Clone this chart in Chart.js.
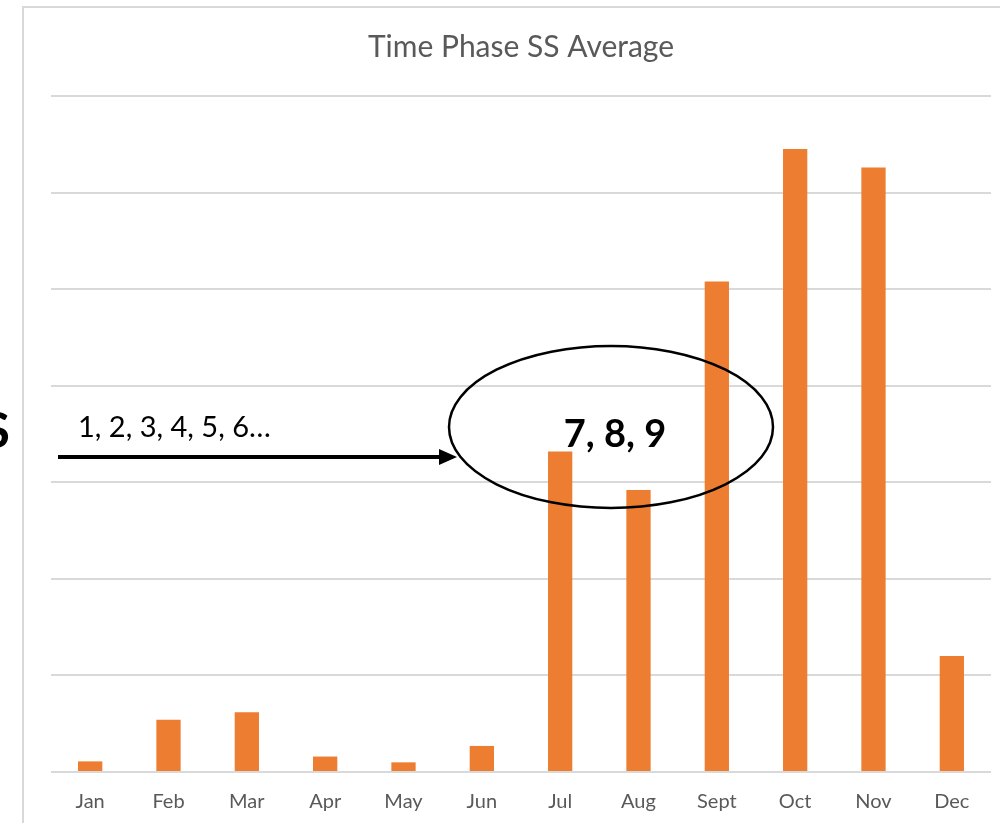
<!DOCTYPE html>
<html>
<head>
<meta charset="utf-8">
<script src="https://cdn.jsdelivr.net/npm/chart.js@4.4.1/dist/chart.umd.min.js"></script>
<style>
  html, body { margin: 0; padding: 0; background: #fff; }
  #wrap { width: 1000px; height: 823px; position: relative; }
</style>
</head>
<body>
<div id="wrap"><canvas id="chart" width="1000" height="823"></canvas></div>
<script>
const months = ["Jan", "Feb", "Mar", "Apr", "May", "Jun", "Jul", "Aug", "Sept", "Oct", "Nov", "Dec"];
const ssAverage = [1.1, 5.4, 6.2, 1.6, 1.0, 2.7, 33.2, 29.2, 50.8, 64.5, 62.6, 12.0];
const yMax = 70;
const yStep = 10;

const FONT = "Lato, 'Open Sans', sans-serif";

// frame + hand-drawn annotations on top of the chart
const overlay = {
  id: "overlay",
  beforeDraw(chart) {
    const ctx = chart.ctx;
    ctx.save();
    ctx.fillStyle = "#fff";
    ctx.fillRect(0, 0, chart.width, chart.height);
    ctx.strokeStyle = "#d9d9d9";
    ctx.lineWidth = 2;
    ctx.strokeRect(23, 7, 1200, 1000);
    ctx.restore();
  },
  afterDraw(chart) {
    const ctx = chart.ctx;
    ctx.save();
    ctx.fillStyle = "#000";
    ctx.strokeStyle = "#000";

    // cut-off letter at the left edge
    ctx.font = "bold 50px " + FONT;
    ctx.textAlign = "right";
    ctx.textBaseline = "alphabetic";
    ctx.fillText("S", 10, 448);

    // arrow
    ctx.lineWidth = 4;
    ctx.beginPath();
    ctx.moveTo(58, 457);
    ctx.lineTo(442, 457);
    ctx.stroke();
    ctx.beginPath();
    ctx.moveTo(457, 457);
    ctx.lineTo(439, 449);
    ctx.lineTo(439, 465);
    ctx.closePath();
    ctx.fill();

    ctx.font = "29px " + FONT;
    ctx.textAlign = "left";
    ctx.fillText("1, 2, 3, 4, 5, 6\u2026", 78, 437);

    // ellipse
    ctx.lineWidth = 2.5;
    ctx.beginPath();
    ctx.ellipse(611, 427, 162, 81, 0, 0, Math.PI * 2);
    ctx.stroke();

    ctx.font = "bold 38px " + FONT;
    ctx.textAlign = "center";
    ctx.fillText("7, 8, 9", 615, 447);
    ctx.restore();
  }
};

new Chart(document.getElementById("chart"), {
  type: "bar",
  data: {
    labels: months,
    datasets: [{
      label: "SS Average",
      data: ssAverage,
      backgroundColor: "#ed7d31",
      barPercentage: 0.31,
      categoryPercentage: 1.0
    }]
  },
  options: {
    responsive: false,
    animation: false,
    layout: { padding: { left: 51, right: 9, top: 0, bottom: 0 } },
    plugins: {
      legend: { display: false },
      tooltip: { enabled: false },
      title: {
        display: true,
        text: "Time Phase SS Average",
        color: "#595959",
        font: { family: FONT, size: 30, weight: "normal" },
        padding: { top: 29, bottom: 31 }
      }
    },
    scales: {
      x: {
        grid: { display: false, drawTicks: false },
        border: { display: false },
        ticks: {
          color: "#595959",
          font: { family: FONT, size: 20 },
          padding: 18
        },
        afterFit(scale) { scale.height = 51; }
      },
      y: {
        min: 0,
        max: yMax,
        ticks: { display: false, stepSize: yStep },
        grid: { color: "#d9d9d9", lineWidth: 2, drawTicks: false },
        border: { display: false },
        afterFit(scale) { scale.width = 0; }
      }
    }
  },
  plugins: [overlay]
});
</script>
</body>
</html>
